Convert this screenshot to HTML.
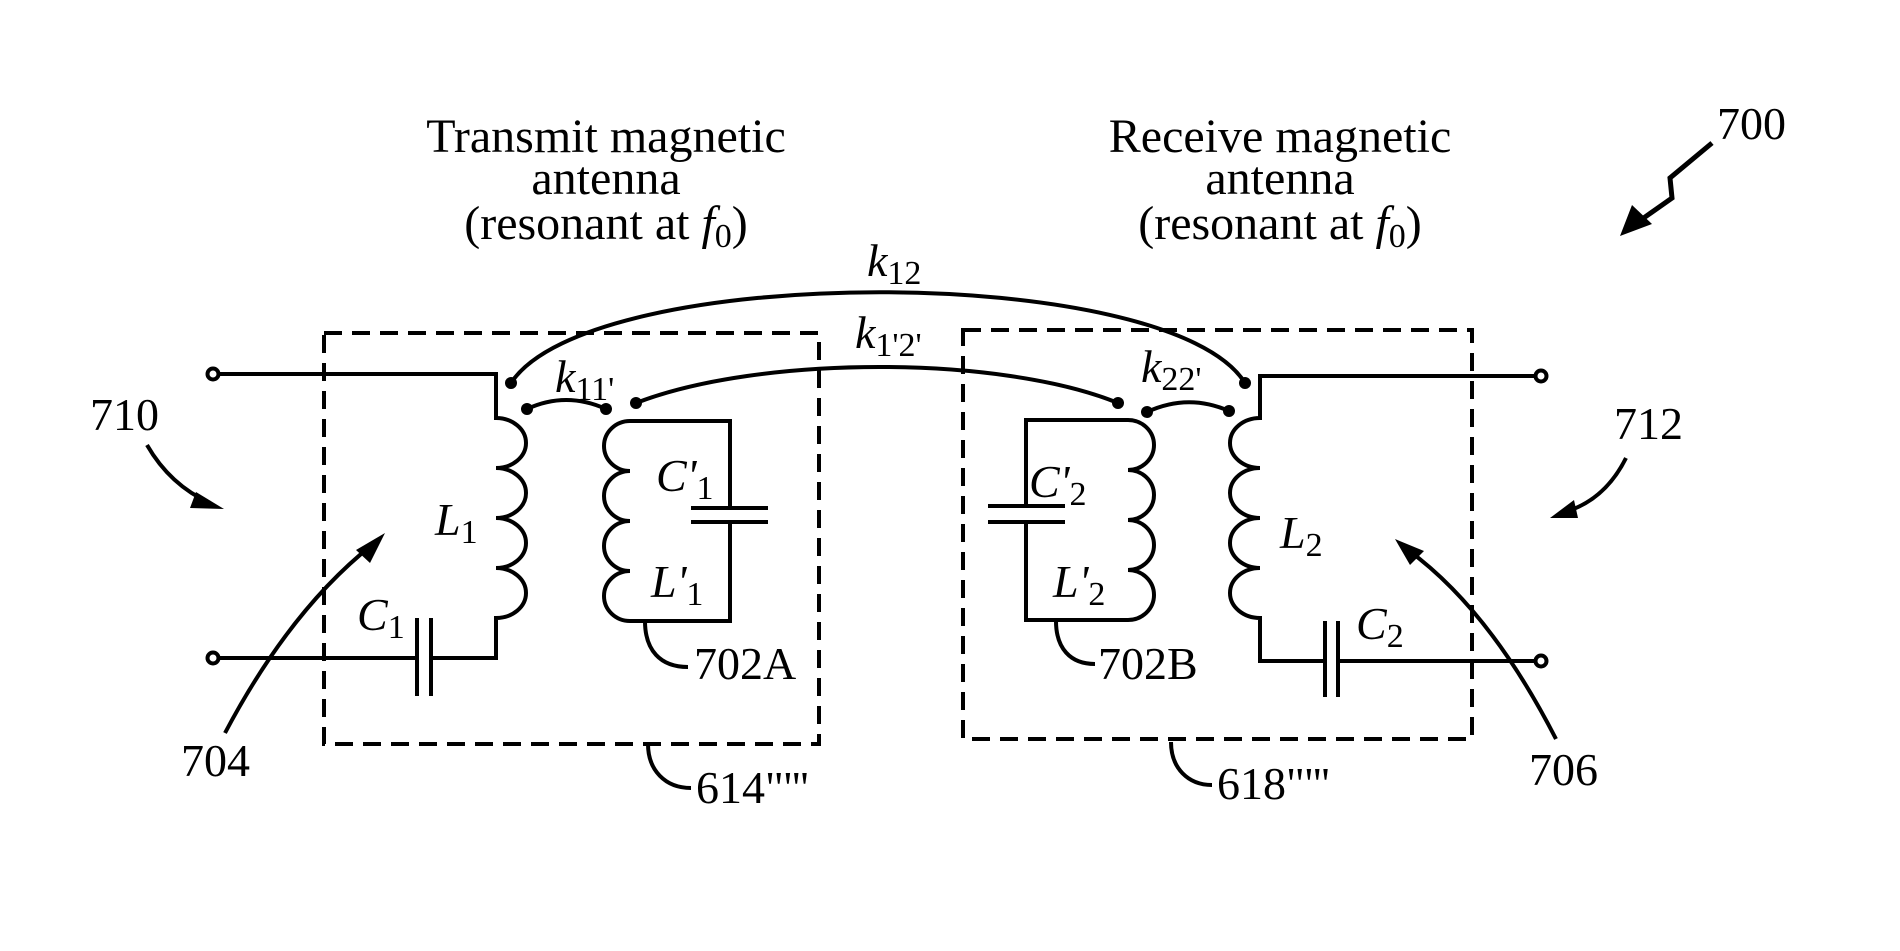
<!DOCTYPE html>
<html><head><meta charset="utf-8"><style>
html,body{margin:0;padding:0;background:#fff}
svg{display:block}
text{font-family:"Liberation Serif",serif;fill:#000}
</style></head><body>
<svg width="1900" height="951" viewBox="0 0 1900 951" xmlns="http://www.w3.org/2000/svg">
<g fill="none" stroke="#000" stroke-width="4">
<rect x="324" y="333" width="495" height="411" stroke-dasharray="18,10"/>
<rect x="963" y="330" width="509" height="409" stroke-dasharray="18,10"/>
<path d="M218,374 H496 V418 A30 25 0 0 1 496 468 A30 25 0 0 1 496 518 A30 25 0 0 1 496 568 A30 25 0 0 1 496 618 V658 H431"/>
<path d="M417,658 H218"/>
<path d="M417,618 V696 M431,618 V696"/>
<circle cx="213" cy="374" r="5.5"/>
<circle cx="213" cy="658" r="5.5"/>
<path d="M630,421 A26 25 0 0 0 630 471 A26 25 0 0 0 630 521 A26 25 0 0 0 630 571 A26 25 0 0 0 630 621 H730 V522 M730,508 V421 H630"/>
<path d="M691,508 H768 M691,522 H768"/>
<path d="M1536,376 H1260 V418 A30 25 0 0 0 1260 468 A30 25 0 0 0 1260 518 A30 25 0 0 0 1260 568 A30 25 0 0 0 1260 618 V661 H1325"/>
<path d="M1338,661 H1536"/>
<path d="M1325,621 V697 M1338,621 V697"/>
<circle cx="1541" cy="376" r="5.5"/>
<circle cx="1541" cy="661" r="5.5"/>
<path d="M1128,420 A26 25 0 0 1 1128 470 A26 25 0 0 1 1128 520 A26 25 0 0 1 1128 570 A26 25 0 0 1 1128 620 H1026 V522 M1026,506 V420 H1128"/>
<path d="M988,506 H1065 M988,522 H1065"/>
<path d="M511,383 C590,262 1170,262 1245,383"/>
<path d="M636,403 C760,355 1000,355 1118,403"/>
<path d="M527,409 Q566,391 606,409"/>
<path d="M1147,412 Q1188,393 1229,411"/>
<path d="M645,621 C645,650 660,667 688,667"/>
<path d="M648,744 C648,770 665,788 691,788"/>
<path d="M1056,621 C1056,648 1070,664 1095,664"/>
<path d="M1171,742 C1171,768 1188,785 1212,785"/>
<path d="M225,733 Q290,610 372,545"/>
<path d="M147,445 Q170,485 210,503"/>
<path d="M1556,739 Q1490,610 1408,550"/>
<path d="M1626,458 Q1605,500 1565,512"/>
<path d="M1712,143 L1670,178 L1672,198 L1638,222" stroke-width="5"/>
</g>
<g fill="#000">
<circle cx="511" cy="383" r="6"/><circle cx="527" cy="409" r="6"/>
<circle cx="606" cy="409" r="6"/><circle cx="636" cy="403" r="6"/>
<circle cx="1118" cy="403" r="6"/><circle cx="1147" cy="412" r="6"/>
<circle cx="1229" cy="411" r="6"/><circle cx="1245" cy="383" r="6"/>
<polygon points="385,533 356,550 370,563"/>
<polygon points="224,509 196,492 190,508"/>
<polygon points="1395,539 1410,565 1424,551"/>
<polygon points="1550,518 1574,500 1578,518"/>
<polygon points="1620,236 1632,205 1652,224"/>
</g>
<g font-size="48">
<text x="606" y="152" text-anchor="middle">Transmit magnetic</text>
<text x="606" y="194" text-anchor="middle">antenna</text>
<text x="606" y="239" text-anchor="middle">(resonant at <tspan font-style="italic">f</tspan><tspan font-size="34" dy="8">0</tspan><tspan dy="-8">)</tspan></text>
<text x="1280" y="152" text-anchor="middle">Receive magnetic</text>
<text x="1280" y="194" text-anchor="middle">antenna</text>
<text x="1280" y="239" text-anchor="middle">(resonant at <tspan font-style="italic">f</tspan><tspan font-size="34" dy="8">0</tspan><tspan dy="-8">)</tspan></text>
</g>
<g font-size="46">
<text x="867" y="276"><tspan font-style="italic">k</tspan><tspan font-size="34" dy="8">12</tspan></text>
<text x="855" y="348"><tspan font-style="italic">k</tspan><tspan font-size="34" dy="8">1'2'</tspan></text>
<text x="555" y="392"><tspan font-style="italic">k</tspan><tspan font-size="34" dy="8">11'</tspan></text>
<text x="1141" y="382"><tspan font-style="italic">k</tspan><tspan font-size="34" dy="8">22'</tspan></text>
<text x="435" y="535"><tspan font-style="italic">L</tspan><tspan font-size="34" dy="8">1</tspan></text>
<text x="357" y="630"><tspan font-style="italic">C</tspan><tspan font-size="34" dy="8">1</tspan></text>
<text x="656" y="491"><tspan font-style="italic">C'</tspan><tspan font-size="34" dy="8">1</tspan></text>
<text x="651" y="597"><tspan font-style="italic">L'</tspan><tspan font-size="34" dy="8">1</tspan></text>
<text x="1029" y="497"><tspan font-style="italic">C'</tspan><tspan font-size="34" dy="8">2</tspan></text>
<text x="1053" y="597"><tspan font-style="italic">L'</tspan><tspan font-size="34" dy="8">2</tspan></text>
<text x="1280" y="548"><tspan font-style="italic">L</tspan><tspan font-size="34" dy="8">2</tspan></text>
<text x="1356" y="639"><tspan font-style="italic">C</tspan><tspan font-size="34" dy="8">2</tspan></text>
<text x="694" y="679">702A</text>
<text x="1098" y="679">702B</text>
<text x="696" y="803">614"'''</text>
<text x="1217" y="799">618"'''</text>
<text x="181" y="776">704</text>
<text x="1529" y="785">706</text>
<text x="90" y="430">710</text>
<text x="1614" y="439">712</text>
<text x="1717" y="139">700</text>
</g>
</svg>
</body></html>
